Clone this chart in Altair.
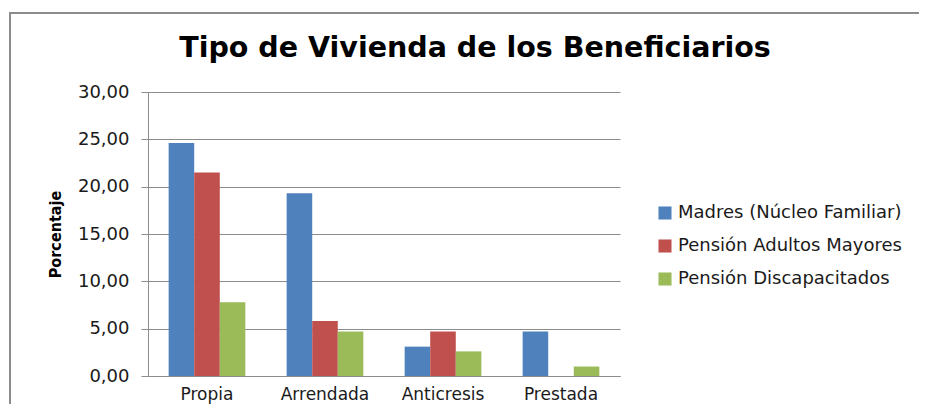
import altair as alt
import pandas as pd

title_text = "Tipo de Vivienda de los Beneficiarios"
categories = ["Propia", "Arrendada", "Anticresis", "Prestada"]
series = ["Madres (Núcleo Familiar)", "Pensión Adultos Mayores", "Pensión Discapacitados"]
madres = [24.6, 19.3, 3.1, 4.7]
adultos = [21.5, 5.8, 4.7, 0.0]
discap = [7.8, 4.7, 2.6, 1.0]
colors = ["#4F81BD", "#C0504D", "#9BBB59"]

rows = []
for vals, s in zip([madres, adultos, discap], series):
    for c, v in zip(categories, vals):
        rows.append({"cat": c, "series": s, "value": v})
df = pd.DataFrame(rows)

narrow = "Liberation Sans Narrow, DejaVu Sans Condensed, sans-serif"
wide = "DejaVu Sans, Verdana, sans-serif"

bars = alt.Chart(df).mark_bar().encode(
    x=alt.X("cat:N", sort=categories, title=None,
            scale=alt.Scale(paddingInner=0.35, paddingOuter=0.175),
            axis=alt.Axis(labelAngle=0, ticks=False, labelPadding=10, labelFontSize=17,
                          labelFont=wide, labelColor="#1a1a1a", domainColor="#8c8c8c")),
    xOffset=alt.XOffset("series:N", sort=series, scale=alt.Scale(paddingInner=0, paddingOuter=0)),
    y=alt.Y("value:Q", title="Porcentaje",
            scale=alt.Scale(domain=[0, 30]),
            axis=alt.Axis(values=[0, 5, 10, 15, 20, 25, 30],
                          labelExpr="replace(format(datum.value, '.2f'), '.', ',')",
                          labelFont=wide, labelFontSize=18, labelColor="#1a1a1a",
                          labelPadding=12, tickSize=7, tickColor="#8c8c8c",
                          domainColor="#8c8c8c", gridColor="#8c8c8c",
                          titleFont=narrow, titleFontSize=16, titleFontWeight="bold",
                          titleColor="#000000", titlePadding=14)),
    color=alt.Color("series:N", sort=series, title=None,
                    scale=alt.Scale(domain=series, range=colors),
                    legend=alt.Legend(orient="none", legendX=508, legendY=112,
                                      symbolType="square", symbolSize=170,
                                      symbolStrokeWidth=0, labelFont=wide,
                                      labelFontSize=18, labelColor="#1a1a1a",
                                      labelLimit=400,
                                      labelOffset=4, rowPadding=15)),
)

one = pd.DataFrame({"a": [0]})
top_line = alt.Chart(one).mark_rule(stroke="#8c8c8c", strokeWidth=2).encode(
    x=alt.value(-139), x2=alt.value(771), y=alt.value(-79))
left_line = alt.Chart(one).mark_rule(stroke="#8c8c8c", strokeWidth=2).encode(
    x=alt.value(-138), y=alt.value(-79), y2=alt.value(400))

title = alt.Chart(pd.DataFrame({"t": [title_text]})).mark_text(
    font="DejaVu Sans, sans-serif", fontSize=28.5, fontWeight="bold", color="#000000",
    align="center", baseline="alphabetic"
).encode(text="t:N", x=alt.value(327), y=alt.value(-35))

chart = alt.layer(top_line, left_line, bars, title).properties(
    width=472, height=284,
    padding={"left": 140, "top": 84, "right": 299, "bottom": 28},
    autosize=alt.AutoSizeParams(type="none"),
).configure_view(stroke=None).configure_axis(grid=True).configure_axisX(grid=False)

chart.save("out.html", embed_options={"renderer": "svg", "actions": False})
